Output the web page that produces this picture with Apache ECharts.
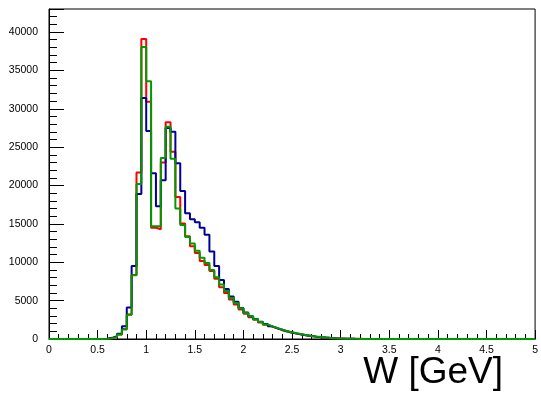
<!DOCTYPE html>
<html>
<head>
<meta charset="utf-8">
<script src="https://cdn.jsdelivr.net/npm/echarts@6/dist/echarts.min.js"></script>
<style>
  html, body { margin: 0; padding: 0; background: #ffffff; }
  #chart { width: 541px; height: 417px; }
</style>
</head>
<body>
<div id="chart"></div>
<script>
// Histogram binning: 100 bins of width 0.05 GeV over W = 0 .. 5 GeV
const binWidth = 0.05;
const wMin = 0;
const wMax = 5;
const xTickStep = 0.5;
const yTickStep = 5000;
const yMax = 43000;
const xTitle = 'W [GeV]';

// Bin contents, one entry per bin (lower edges 0.00, 0.05, ... 4.95)
const redCounts = [
  0, 0, 0, 0, 0, 0, 0, 0, 0, 0,
  0, 20, 90, 300, 600, 1300, 3200, 8350, 21700, 39100,
  30900, 14500, 14300, 23000, 28250, 24400, 18500, 15050, 13400, 12100,
  11200, 10150, 9650, 8850, 7850, 6750, 6000, 5150, 4500, 3850,
  3300, 2850, 2500, 2150, 1850, 1600, 1380, 1150, 970, 820,
  700, 590, 470, 380, 300, 240, 185, 140, 105, 80,
  60, 45, 35, 25, 10, 5, 3, 2, 1, 0,
  0, 0, 0, 0, 0, 0, 0, 0, 0, 0,
  0, 0, 0, 0, 0, 0, 0, 0, 0, 0,
  0, 0, 0, 0, 0, 0, 0, 0, 0, 0
];

const blueCounts = [
  0, 0, 0, 0, 0, 0, 0, 0, 0, 0,
  0, 40, 150, 380, 700, 1650, 4100, 9500, 18900, 31400,
  27100, 21600, 17300, 20700, 27500, 27000, 22900, 19300, 16400, 15600,
  15200, 14500, 13600, 11400, 9500, 7700, 6500, 5550, 4850, 4050,
  3450, 2950, 2600, 2250, 1950, 1650, 1400, 1200, 1000, 850,
  720, 600, 480, 390, 310, 240, 180, 130, 95, 65,
  45, 30, 20, 12, 8, 5, 3, 2, 1, 0,
  0, 0, 0, 0, 0, 0, 0, 0, 0, 0,
  0, 0, 0, 0, 0, 0, 0, 0, 0, 0,
  0, 0, 0, 0, 0, 0, 0, 0, 0, 0
];

const greenCounts = [
  0, 0, 0, 0, 0, 0, 0, 0, 0, 0,
  0, 20, 90, 280, 580, 1250, 3150, 8300, 20200, 38050,
  33600, 14700, 14700, 23600, 27650, 23500, 17000, 14850, 13300, 12450,
  11500, 10600, 9900, 9000, 8050, 7100, 6250, 5350, 4700, 4000,
  3400, 2950, 2580, 2220, 1900, 1650, 1420, 1220, 1020, 880,
  740, 620, 500, 400, 320, 250, 190, 140, 100, 70,
  45, 30, 18, 10, 6, 4, 2, 1, 0, 0,
  0, 0, 0, 0, 0, 0, 0, 0, 0, 0,
  0, 0, 0, 0, 0, 0, 0, 0, 0, 0,
  0, 0, 0, 0, 0, 0, 0, 0, 0, 0
];

// Turn bin contents into step-line vertices: each bin starts at its lower edge,
// with a closing vertex at the upper edge of the last bin.
function histPoints(counts) {
  const pts = counts.map((c, i) => [+(wMin + i * binWidth).toFixed(2), c]);
  pts.push([wMax, counts[counts.length - 1]]);
  return pts;
}

const font = 'Liberation Sans, Arial, Helvetica, sans-serif';

function histSeries(name, counts, color, z) {
  return {
    name: name,
    type: 'line',
    step: 'end',
    data: histPoints(counts),
    symbol: 'none',
    z: z,
    clip: true,
    lineStyle: { color: color, width: 2 },
    emphasis: { disabled: true }
  };
}

const chart = echarts.init(document.getElementById('chart'), null, { renderer: 'canvas' });

chart.setOption({
  animation: false,
  backgroundColor: '#ffffff',
  title: {
    text: xTitle,
    right: 33,
    top: 349,
    padding: 5,
    textStyle: { fontFamily: font, fontSize: 37, fontWeight: 'normal', color: '#000000' }
  },
  grid: {
    left: 49, right: 2, top: 9, bottom: 78,
    show: true, borderColor: '#000000', borderWidth: 1, backgroundColor: 'transparent'
  },
  xAxis: {
    type: 'value',
    min: wMin, max: wMax, interval: xTickStep,
    axisLine: { show: true, onZero: false, lineStyle: { color: '#000000', width: 1 } },
    axisTick: { show: true, inside: true, length: 9, lineStyle: { color: '#000000', width: 1 } },
    minorTick: { show: true, splitNumber: 5, length: 5, lineStyle: { color: '#000000', width: 1 } },
    splitLine: { show: false },
    axisLabel: {
      margin: 6, color: '#000000', fontFamily: font, fontSize: 10.5,
      formatter: v => String(v)
    }
  },
  yAxis: {
    type: 'value',
    min: 0, max: yMax, interval: yTickStep,
    axisLine: { show: true, onZero: false, lineStyle: { color: '#000000', width: 1 } },
    axisTick: { show: true, inside: true, length: 15, lineStyle: { color: '#000000', width: 1 } },
    minorTick: { show: true, splitNumber: 5, length: 8, lineStyle: { color: '#000000', width: 1 } },
    splitLine: { show: false },
    axisLabel: {
      margin: 11, color: '#000000', fontFamily: font, fontSize: 10.5,
      showMaxLabel: false,
      formatter: v => String(v)
    }
  },
  series: [
    histSeries('red', redCounts, '#ff0000', 2),
    histSeries('blue', blueCounts, '#000099', 3),
    histSeries('green', greenCounts, '#009a00', 4)
  ]
});
</script>
</body>
</html>
